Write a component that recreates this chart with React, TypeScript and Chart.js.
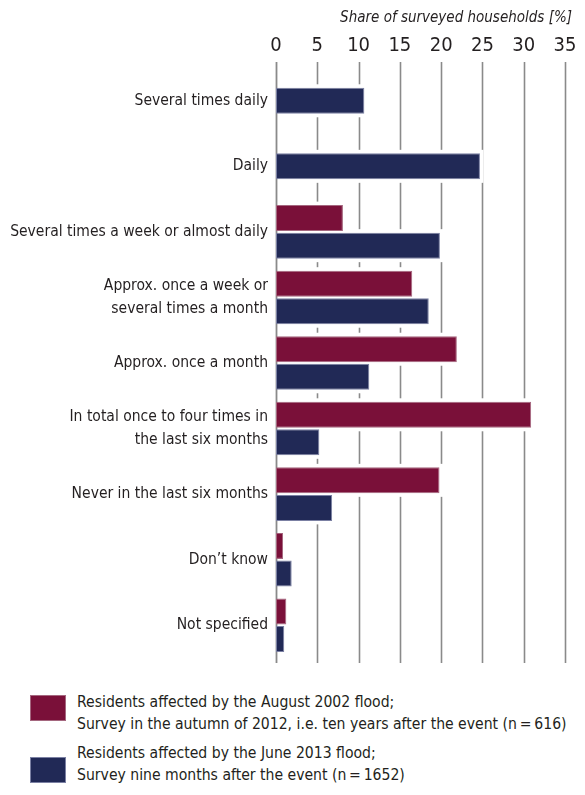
import React, { useEffect, useRef } from "react";
import { Chart, registerables } from "chart.js";

Chart.register(...registerables);

const categories: string[][] = [
  ["Several times daily"],
  ["Daily"],
  ["Several times a week or almost daily"],
  ["Approx. once a week or", "several times a month"],
  ["Approx. once a month"],
  ["In total once to four times in", "the last six months"],
  ["Never in the last six months"],
  ["Don\u2019t know"],
  ["Not specified"],
];

const flood2002: (number | null)[] = [null, null, 8.1, 16.5, 21.9, 30.9, 19.8, 0.85, 1.25];
const flood2013: (number | null)[] = [10.7, 24.7, 19.85, 18.5, 11.3, 5.25, 6.8, 1.9, 1.0];

const xTicks: number[] = [0, 5, 10, 15, 20, 25, 30, 35];

const legendLabels: string[][] = [
  ["Residents affected by the August 2002 flood;", "Survey in the autumn of 2012, i.e. ten years after the event (n\u2009=\u2009616)"],
  ["Residents affected by the June 2013 flood;", "Survey nine months after the event (n\u2009=\u20091652)"],
];

const axisTitle = "Share of surveyed households [%]";

const RED = "#7a1039";
const BLUE = "#212956";
const FONT = "'DejaVu Sans Condensed', 'Liberation Sans Narrow', sans-serif";
const TEXT = "#231f20";

const gridPlugin = {
  id: "gapGrid",
  beforeDatasetsDraw(chart: any) {
    const { ctx, chartArea } = chart;
    const x = chart.scales.x;
    ctx.save();
    ctx.strokeStyle = "#8a8a8a";
    ctx.lineWidth = 1.6;
    xTicks.forEach((v) => {
      if (v === 0) return;
      const px = Math.round(x.getPixelForValue(v)) + 0.5;
      ctx.beginPath();
      ctx.moveTo(px, chartArea.top - 6);
      ctx.lineTo(px, chartArea.bottom + 5);
      ctx.stroke();
    });
    ctx.fillStyle = "#ffffff";
    chart.data.datasets.forEach((ds: any, di: number) => {
      const meta = chart.getDatasetMeta(di);
      meta.data.forEach((el: any, i: number) => {
        if (ds.data[i] === null || ds.data[i] === undefined) return;
        const p = el.getProps(["x", "y", "base", "height"], true);
        ctx.fillRect(p.base, p.y - p.height / 2 - 3.5, p.x - p.base + 3.5, p.height + 7);
      });
    });
    const p0 = Math.round(x.getPixelForValue(0)) + 0.5;
    ctx.strokeStyle = "#8a8a8a";
    ctx.lineWidth = 1.8;
    ctx.beginPath();
    ctx.moveTo(p0, chartArea.top - 6);
    ctx.lineTo(p0, chartArea.bottom + 5);
    ctx.stroke();
    ctx.restore();
  },
  afterDraw(chart: any) {
    const { ctx } = chart;
    ctx.save();
    ctx.font = `italic 15px ${FONT}`;
    ctx.fillStyle = TEXT;
    ctx.textAlign = "right";
    ctx.textBaseline = "middle";
    ctx.fillText(axisTitle, 572, 18);
    ctx.restore();
  },
};

function BarChart() {
  const ref = useRef<HTMLCanvasElement | null>(null);
  useEffect(() => {
    if (!ref.current) return;
    const chart = new Chart(ref.current, {
      type: "bar",
      data: {
        labels: categories as any,
        datasets: [
          {
            label: legendLabels[0].join(" "),
            data: flood2002 as any,
            backgroundColor: RED,
            borderColor: "#a5677f",
            borderWidth: 1,
            borderSkipped: false,
          },
          {
            label: legendLabels[1].join(" "),
            data: flood2013 as any,
            backgroundColor: BLUE,
            borderColor: "#7b80a3",
            borderWidth: 1,
            borderSkipped: false,
          },
        ],
      },
      options: {
        indexAxis: "y",
        animation: false,
        responsive: false,
        devicePixelRatio: 1,
        skipNull: true,
        maxBarThickness: 26,
        categoryPercentage: 0.84,
        barPercentage: 0.95,
        layout: { padding: { top: 0, right: 20, bottom: 12, left: 0 } },
        plugins: {
          legend: { display: false },
          tooltip: { enabled: false },
          title: { display: false },
        },
        scales: {
          x: {
            position: "top",
            min: 0,
            max: 35,
            afterBuildTicks(scale: any) {
              scale.ticks = xTicks.map((v) => ({ value: v }));
            },
            afterFit(scale: any) {
              scale.height = 68;
              scale.paddingLeft = 0;
              scale.paddingRight = 0;
            },
            grid: { display: false, drawTicks: false },
            border: { display: false },
            ticks: {
              color: TEXT,
              font: { family: FONT, size: 20 },
              padding: 10,
            },
          },
          y: {
            afterFit(scale: any) {
              scale.width = 276;
              scale.paddingTop = 0;
              scale.paddingBottom = 0;
            },
            grid: { display: false, drawTicks: false },
            border: { display: false },
            ticks: {
              color: TEXT,
              font: { family: FONT, size: 15.5, lineHeight: 1.45 },
              padding: 8,
              autoSkip: false,
            },
          },
        },
      } as any,
      plugins: [gridPlugin],
    });
    return () => chart.destroy();
  }, []);
  return <canvas ref={ref} width={585} height={670} style={{ display: "block" }} />;
}

export default function App() {
  const boxTops = [695, 757];
  const textTops = [691, 742];
  return (
    <div style={{ position: "absolute", left: 0, top: 0, width: 585, height: 795, background: "#fff" }}>
      <BarChart />
      {legendLabels.map((lines, i) => (
        <React.Fragment key={i}>
          <div
            style={{
              position: "absolute",
              left: 30,
              top: boxTops[i],
              width: 36,
              height: 26,
              background: i === 0 ? RED : BLUE,
              border: `1px solid ${i === 0 ? "#a5677f" : "#7b80a3"}`,
              boxSizing: "border-box",
            }}
          />
          <div
            style={{
              position: "absolute",
              left: 77,
              top: textTops[i],
              fontFamily: FONT,
              fontSize: 16,
              lineHeight: "22px",
              color: TEXT,
              whiteSpace: "nowrap",
              transform: "scaleX(0.975)",
              transformOrigin: "left center",
            }}
          >
            {lines.map((l, j) => (
              <div key={j}>{l}</div>
            ))}
          </div>
        </React.Fragment>
      ))}
    </div>
  );
}
